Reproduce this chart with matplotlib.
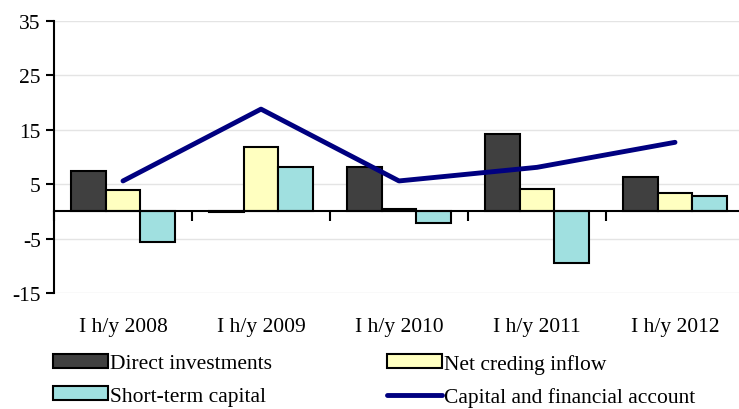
import numpy as np
import matplotlib.pyplot as plt
from matplotlib.patches import Patch
from matplotlib.lines import Line2D

plt.rcParams['font.family'] = ['Liberation Serif', 'DejaVu Serif']
plt.rcParams['axes.unicode_minus'] = False

# Data
periods = ['I h/y 2008', 'I h/y 2009', 'I h/y 2010', 'I h/y 2011', 'I h/y 2012']
direct = [7.5, -0.2, 8.2, 14.3, 6.3]
net_credit = [4.0, 11.8, 0.4, 4.1, 3.3]
short_term = [-5.7, 8.1, -2.2, -9.4, 2.8]
capital_account = [5.6, 18.8, 5.6, 8.1, 12.7]

names = ['Direct investments', 'Net creding inflow', 'Short-term capital',
         'Capital and financial account']
colors = ['#404040', '#ffffc0', '#a0e0e0']
line_color = '#000080'
fs = 15.5

fig = plt.figure(figsize=(7.39, 4.10), dpi=100)
ax = fig.add_axes([54 / 739, 116 / 410, 690 / 739, 272 / 410])

x = np.arange(len(periods))
w = 0.25
for k, vals in enumerate([direct, net_credit, short_term]):
    ax.bar(x + (k - 1) * w, vals, w, color=colors[k], edgecolor='black',
           linewidth=1.5, zorder=3)

ax.plot(x, capital_account, color=line_color, linewidth=3.5,
        solid_capstyle='round', solid_joinstyle='round', zorder=4)

ax.set_xlim(-0.5, len(periods) - 0.5)
ax.set_ylim(-15, 35)
ax.set_yticks([-15, -5, 5, 15, 25, 35])
ax.tick_params(axis='y', labelsize=fs, length=6, width=1.5, direction='out')
ax.grid(axis='y', color='#e4e4e4', linewidth=1, zorder=0)

for s in ['top', 'right']:
    ax.spines[s].set_visible(False)
ax.spines['left'].set_linewidth(1.5)
ax.spines['bottom'].set_position(('data', 0))
ax.spines['bottom'].set_linewidth(1.5)
ax.spines['bottom'].set_zorder(5)

# category separators as ticks hanging from the zero line
ax.set_xticks(np.arange(len(periods) + 1) - 0.5)
ax.set_xticklabels([])
ax.tick_params(axis='x', length=7, width=1.5, direction='out')

for i, p in enumerate(periods):
    ax.text(i, -0.122, p, transform=ax.get_xaxis_transform(), ha='center',
            va='center', fontsize=fs)

h1 = [Patch(facecolor=colors[0], edgecolor='black', linewidth=1.5),
      Patch(facecolor=colors[2], edgecolor='black', linewidth=1.5)]
h2 = [Patch(facecolor=colors[1], edgecolor='black', linewidth=1.5),
      Line2D([], [], color=line_color, linewidth=3.5, solid_capstyle='round')]

common = dict(frameon=False, fontsize=fs, handlelength=2.55, handleheight=0.6,
              handletextpad=0.1, borderpad=0, labelspacing=0.6, borderaxespad=0)
fig.legend(h1, [names[0], names[2]], loc='upper left',
           bbox_to_anchor=(53 / 739, 1 - 355 / 410), **common)
fig.legend(h2, [names[1], names[3]], loc='upper left',
           bbox_to_anchor=(387 / 739, 1 - 355 / 410), **common)

fig.savefig('out.png', dpi=100)
